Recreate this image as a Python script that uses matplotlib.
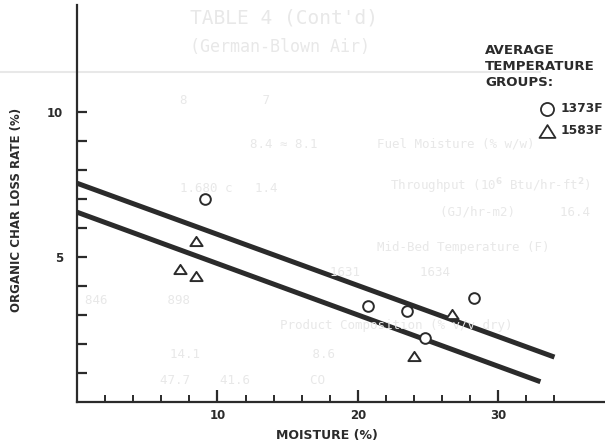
import matplotlib
matplotlib.use('Agg')
import matplotlib.pyplot as plt
from matplotlib.lines import Line2D
from matplotlib.path import Path
import numpy as np

# data
moist_1373 = [9.1, 20.7, 23.5, 24.8, 28.3]
rate_1373 = [7.0, 3.3, 3.15, 2.2, 3.6]
moist_1583 = [8.45, 7.3, 8.45, 26.7, 24.0]
rate_1583 = [5.55, 4.6, 4.35, 3.05, 1.6]

# two fitted lines (end points)
upper_x = [0.0, 34.0]
upper_y = [7.55, 1.55]
lower_x = [0.0, 33.0]
lower_y = [6.55, 0.7]

xticks_major = [10, 20, 30]
yticks_labels = {5: '5', 10: '10'}
legend_title = ['AVERAGE', 'TEMPERATURE', 'GROUPS:']
legend_names = ['1373F', '1583F']

ink = '#2b2b2b'
ghost = '#e8e8e8'


def flat_triangle(h):
    # open triangle a bit flatter than matplotlib's '^'
    return Path([(-1, -h), (1, -h), (0, h), (-1, -h)], closed=True)


plt.rcParams['font.family'] = ['DejaVu Sans']
plt.rcParams['font.weight'] = 'bold'
plt.rcParams['axes.labelweight'] = 'bold'

fig = plt.figure(figsize=(6.05, 4.42), dpi=100)

# faint show-through of the facing page
bg = [
    (190, 18, "TABLE 4 (Cont'd)", 14),
    (190, 47, "(German-Blown Air)", 12),
    (180, 100, "8          7", 9),
    (377, 144, "Fuel Moisture (% w/w)", 9),
    (250, 144, "8.4 \u2248 8.1", 9),
    (180, 188, "1.680 c   1.4", 9),
    (390, 186, "Throughput (10$^6$ Btu/hr-ft$^2$)", 9),
    (440, 212, "(GJ/hr-m2)      16.4", 9),
    (377, 248, "Mid-Bed Temperature (F)", 9),
    (330, 272, "1631        1634", 9),
    (85, 300, "846        898", 9),
    (280, 326, "Product Composition (% v/v dry)", 9),
    (170, 355, "14.1               8.6", 9),
    (160, 380, "47.7    41.6        CO", 9),
]
for bx, by, s, fs in bg:
    fig.text(bx / 605, 1 - by / 442, s, color=ghost, fontsize=fs,
             family='DejaVu Sans Mono', fontweight='normal', va='center',
             ha='left', zorder=0)
fig.add_artist(Line2D([0.0, 540 / 605], [1 - 72 / 442] * 2, color=ghost, lw=1.5, zorder=0))

ax = fig.add_axes([77 / 605, 40 / 442, 528 / 605, 397 / 442])
ax.patch.set_alpha(0)

ax.plot(upper_x, upper_y, color=ink, lw=3.6, solid_capstyle='butt', zorder=3)
ax.plot(lower_x, lower_y, color=ink, lw=3.6, solid_capstyle='butt', zorder=3)

ax.plot(moist_1373, rate_1373, 'o', ms=7.7, mfc='white', mec=ink, mew=1.4, zorder=4)
ax.plot(moist_1583, rate_1583, ls='none', marker=flat_triangle(0.75), ms=8.8,
        mfc='white', mec=ink, mew=1.4, zorder=4)

ax.set_xlim(0, 37.6)
ax.set_ylim(0, 13.7)

for side in ['top', 'right']:
    ax.spines[side].set_visible(False)
for side in ['left', 'bottom']:
    ax.spines[side].set_linewidth(1.6)
    ax.spines[side].set_color(ink)

ax.set_xticks(xticks_major)
ax.set_xticks(np.arange(2, 36, 2), minor=True)
ax.set_yticks(range(1, 11))
ax.set_yticklabels([yticks_labels.get(v, '') for v in range(1, 11)])
ax.tick_params(axis='x', which='major', direction='in', length=8.5, width=1.6,
               color=ink, labelsize=8.5, labelcolor=ink, pad=5)
ax.tick_params(axis='x', which='minor', direction='in', length=5, width=1.4, color=ink)
ax.tick_params(axis='y', direction='in', length=7, width=1.6, color=ink,
               labelsize=8.5, labelcolor=ink, pad=10)

ax.set_xlabel('MOISTURE (%)', fontsize=9, color=ink, fontweight='bold')
ax.xaxis.set_label_coords((327 - 77) / 528, -27 / 397)
ax.set_ylabel('ORGANIC CHAR LOSS RATE (%)', fontsize=8.5, color=ink, fontweight='bold')
ax.yaxis.set_label_coords(-54 / 528, (402 - 210) / 397)

# legend block, written out as in the scan
for i, line in enumerate(legend_title):
    fig.text(485 / 605, 1 - (50 + 16 * i) / 442, line, fontsize=9.6, color=ink,
             ha='left', va='center')
fig.add_artist(Line2D([547 / 605], [1 - 109 / 442], marker='o', ms=9.4, mfc='white',
                      mec=ink, mew=1.3, ls='none'))
fig.add_artist(Line2D([547 / 605], [1 - 131 / 442], marker=flat_triangle(0.8),
                      ms=11.5, mfc='white', mec=ink, mew=1.3, ls='none'))
fig.text(561 / 605, 1 - 109 / 442, legend_names[0], fontsize=8.8, color=ink,
         ha='left', va='center')
fig.text(561 / 605, 1 - 131 / 442, legend_names[1], fontsize=8.8, color=ink,
         ha='left', va='center')

fig.savefig('out.png', dpi=100, facecolor='white')
